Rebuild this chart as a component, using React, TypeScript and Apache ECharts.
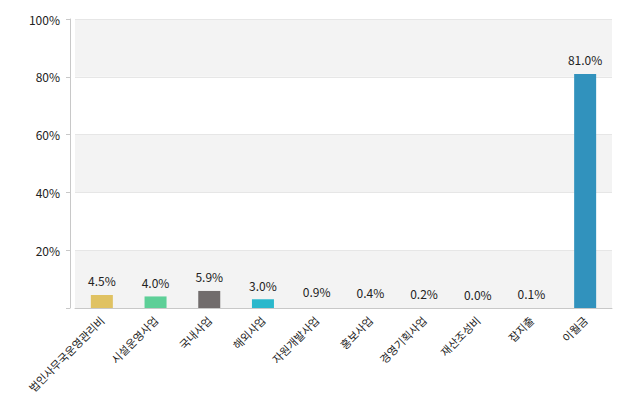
import React, { useEffect, useRef } from "react";
import * as echarts from "echarts";

const categories = ["법인사무국운영관리비", "시설운영사업", "국내사업", "해외사업", "자원개발사업", "홍보사업", "경영기획사업", "재산조성비", "잡지출", "이월금"];
const values = [4.5, 4.0, 5.9, 3.0, 0.9, 0.4, 0.2, 0.0, 0.1, 81.0];
const colors = ["#e0c262", "#5dcf97", "#716c6c", "#2bb8cc", "rgba(0,0,0,0)", "rgba(0,0,0,0)", "rgba(0,0,0,0)", "rgba(0,0,0,0)", "rgba(0,0,0,0)", "#3192bd"];
const yTicks = [0, 20, 40, 60, 80, 100];

export default function App() {
  const ref = useRef<HTMLDivElement>(null);
  useEffect(() => {
    const chart = echarts.init(ref.current!, null, { renderer: "svg" });
    const font = "'Noto Sans CJK KR', 'Noto Sans', sans-serif";
    chart.setOption({
      animation: false,
      grid: { left: 75, right: 13, top: 19, bottom: 88, containLabel: false, outerBoundsMode: "none" },
      xAxis: {
        type: "category",
        data: categories,
        axisLine: { lineStyle: { color: "#c8c8c8" } },
        axisTick: { show: false },
        axisLabel: { rotate: 45, color: "#222", fontSize: 11, fontFamily: font, margin: 10, interval: 0 },
      },
      yAxis: {
        type: "value",
        min: yTicks[0],
        max: yTicks[yTicks.length - 1],
        interval: 20,
        offset: 5,
        axisLine: { show: true, lineStyle: { color: "#c8c8c8" } },
        axisTick: { show: true, length: 4, lineStyle: { color: "#c8c8c8" } },
        axisLabel: {
          color: "#222",
          fontSize: 12,
          fontFamily: font,
          margin: 10,
          formatter: (v: number) => (v === 0 ? "" : v + "%"),
        },
        splitLine: { show: true, lineStyle: { color: "#e6e6e6" } },
        splitArea: { show: true, areaStyle: { color: ["#f3f3f3", "#ffffff"] } },
      },
      series: [
        {
          type: "bar",
          barWidth: 22,
          data: values.map((v, i) => ({
            value: v,
            itemStyle: { color: colors[i] },
          })),
          label: {
            show: true,
            position: "top",
            distance: 8,
            color: "#222",
            fontSize: 12,
            fontFamily: font,
            formatter: (p: any) => Number(p.value).toFixed(1) + "%",
          },
        },
      ],
    });
    return () => chart.dispose();
  }, []);
  return <div ref={ref} style={{ width: 625, height: 396, position: "absolute", left: 0, top: 0 }} />;
}
